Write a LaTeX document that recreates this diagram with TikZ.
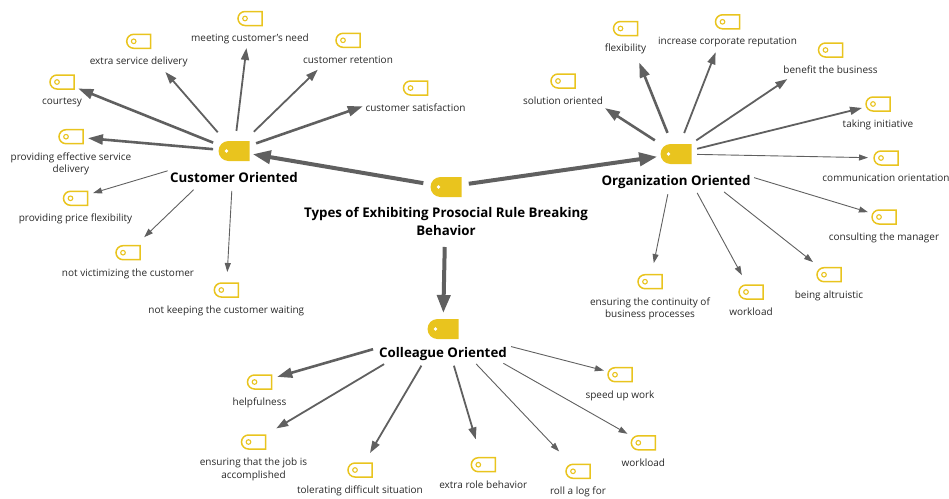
\documentclass[tikz,border=0pt]{standalone}
\usepackage{fontspec}
\setmainfont{Open Sans}
\usepackage{xcolor}
\usepackage{tikz}
\usetikzlibrary{arrows.meta,shapes.misc,positioning}
\definecolor{tagyellow}{RGB}{233,196,30}
\definecolor{linkgray}{RGB}{96,96,96}
\definecolor{textgray}{RGB}{40,40,40}

\begin{document}
\begin{tikzpicture}[x=1pt, y=-1pt,
  leaf/.style={rounded rectangle, rounded rectangle right arc=none, draw=tagyellow, line width=1.5pt, fill=white,
    minimum width=24pt, minimum height=14pt, inner sep=0pt,
    path picture={\draw[tagyellow, line width=1.1pt] ([xshift=7pt]path picture bounding box.west) circle (2.3pt);}},
  hub/.style={rounded rectangle, rounded rectangle right arc=none, fill=tagyellow,
    minimum width=31pt, minimum height=20pt, inner sep=0pt,
    path picture={\fill[white] ([xshift=8pt]path picture bounding box.west) circle (1.8pt);}},
  lbl/.style={font=\fontsize{10}{12.8}\selectfont, text=textgray, inner sep=0pt, align=center, label distance=7.8pt},
  hublbl/.style={font=\fontsize{13.3}{17.7}\selectfont\bfseries, text=black, inner sep=0pt, align=center},
  lk1/.style={draw=linkgray, line width=0.9pt, -{Triangle[length=9pt,width=6pt]}},
  lk2/.style={draw=linkgray, line width=1.8pt, -{Triangle[length=12pt,width=8pt]}},
  lk3/.style={draw=linkgray, line width=2.6pt, -{Triangle[length=15pt,width=10pt]}},
  lk4/.style={draw=linkgray, line width=4pt, -{Triangle[length=18pt,width=13pt]}}]
\useasboundingbox (0,0) rectangle (949,498);

\node[hub, label={[hublbl, label distance=10pt]below:{Types of Exhibiting Prosocial Rule Breaking\\Behavior}}] (m) at (446,187) {};
\node[hub, label={[hublbl, label distance=11pt]below:Customer Oriented}] (c) at (234,151) {};
\node[hub, label={[hublbl, label distance=11pt]below:Organization Oriented}] (o) at (676,154) {};
\node[hub, label={[hublbl, label distance=8pt]below:Colleague Oriented}] (l) at (443,329) {};

% customer oriented
\node[leaf, label={[lbl]below:courtesy}] (c1) at (62,82) {};
\node[leaf, label={[lbl]below:extra service delivery}] (c2) at (138.7,41.3) {};
\node[leaf, label={[lbl]below:meeting customer's need}] (c3) at (250,18.5) {};
\node[leaf, label={[lbl]below:customer retention}] (c4) at (348,40.3) {};
\node[leaf, label={[lbl]below:customer satisfaction}] (c5) at (415.5,88) {};
\node[leaf, label={[lbl]below:{providing effective service\\delivery}}] (c6) at (71,136.7) {};
\node[leaf, label={[lbl]below:providing price flexibility}] (c7) at (75.5,198.3) {};
\node[leaf, label={[lbl]below:not victimizing the customer}] (c8) at (128,252.7) {};
\node[leaf, label={[lbl]below:not keeping the customer waiting}] (c9) at (226.3,290) {};

% organization oriented
\node[leaf, label={[lbl]below:solution oriented}] (o1) at (563,81) {};
\node[leaf, label={[lbl]below:flexibility}] (o2) at (625.5,28.5) {};
\node[leaf, label={[lbl]below:increase corporate reputation}] (o3) at (727.5,21.8) {};
\node[leaf, label={[lbl]below:benefit the business}] (o4) at (830.5,50) {};
\node[leaf, label={[lbl]below:taking initiative}] (o5) at (878,104) {};
\node[leaf, label={[lbl]below:communication orientation}] (o6) at (886,158) {};
\node[leaf, label={[lbl]below:consulting the manager}] (o7) at (884,217) {};
\node[leaf, label={[lbl]below:being altruistic}] (o8) at (829,274.7) {};
\node[leaf, label={[lbl]below:workload}] (o9) at (751,292) {};
\node[leaf, label={[lbl]below:{ensuring the continuity of\\business processes}}] (o10) at (650,281.7) {};

% colleague oriented
\node[leaf, label={[lbl]below:helpfulness}] (l1) at (259.5,382) {};
\node[leaf, label={[lbl]below:{ensuring that the job is\\accomplished}}] (l2) at (253.5,442) {};
\node[leaf, label={[lbl]below:tolerating difficult situation}] (l3) at (360,470) {};
\node[leaf, label={[lbl]below:extra role behavior}] (l4) at (483.3,464.7) {};
\node[leaf, label={[lbl]below:roll a log for}] (l5) at (578,471.3) {};
\node[leaf, label={[lbl]below:workload}] (l6) at (643.3,442.8) {};
\node[leaf, label={[lbl]below:speed up work}] (l7) at (620,374.7) {};

\draw[lk4, shorten <=23pt, shorten >=19pt] (m.center) -- (c.center);
\draw[lk4, shorten <=23pt, shorten >=19pt] (m.center) -- (o.center);
\draw[lk4, shorten <=60pt, shorten >=16pt] (m.center) -- (l.center);

\draw[lk3, shorten <=22.5pt, shorten >=17.5pt] (c.center) -- (c1.center);
\draw[lk2, shorten <=24.8pt, shorten >=40.6pt] (c.center) -- (c2.center);
\draw[lk2, shorten <=20.2pt, shorten >=29.7pt] (c.center) -- (c3.center);
\draw[lk2, shorten <=27.6pt, shorten >=42.2pt] (c.center) -- (c4.center);
\draw[lk3, shorten <=23.4pt, shorten >=55.8pt] (c.center) -- (c5.center);
\draw[lk3, shorten <=21pt, shorten >=17pt] (c.center) -- (c6.center);
\draw[lk1, shorten <=69.3pt, shorten >=18.3pt] (c.center) -- (c7.center);
\draw[lk1, shorten <=55.9pt, shorten >=22.4pt] (c.center) -- (c8.center);
\draw[lk1, shorten <=40pt, shorten >=18pt] (c.center) -- (c9.center);

\draw[lk3, shorten <=25.2pt, shorten >=49.9pt] (o.center) -- (o1.center);
\draw[lk3, shorten <=22.8pt, shorten >=36.7pt] (o.center) -- (o2.center);
\draw[lk2, shorten <=22.5pt, shorten >=32.7pt] (o.center) -- (o3.center);
\draw[lk2, shorten <=24.4pt, shorten >=52pt] (o.center) -- (o4.center);
\draw[lk2, shorten <=21.8pt, shorten >=16.5pt] (o.center) -- (o5.center);
\draw[lk1, shorten <=21pt, shorten >=18pt] (o.center) -- (o6.center);
\draw[lk1, shorten <=81.6pt, shorten >=16.8pt] (o.center) -- (o7.center);
\draw[lk1, shorten <=61.2pt, shorten >=20.4pt] (o.center) -- (o8.center);
\draw[lk1, shorten <=44.3pt, shorten >=19.2pt] (o.center) -- (o9.center);
\draw[lk1, shorten <=41pt, shorten >=19pt] (o.center) -- (o10.center);

\draw[lk3, shorten <=72.8pt, shorten >=18.5pt] (l.center) -- (l1.center);
\draw[lk2, shorten <=68.6pt, shorten >=26.5pt] (l.center) -- (l2.center);
\draw[lk2, shorten <=42.5pt, shorten >=19.7pt] (l.center) -- (l3.center);
\draw[lk2, shorten <=38.3pt, shorten >=26.4pt] (l.center) -- (l4.center);
\draw[lk1, shorten <=48.1pt, shorten >=27.4pt] (l.center) -- (l5.center);
\draw[lk1, shorten <=69.5pt, shorten >=18.2pt] (l.center) -- (l6.center);
\draw[lk1, shorten <=70.3pt, shorten >=16.7pt] (l.center) -- (l7.center);
\end{tikzpicture}
\end{document}
